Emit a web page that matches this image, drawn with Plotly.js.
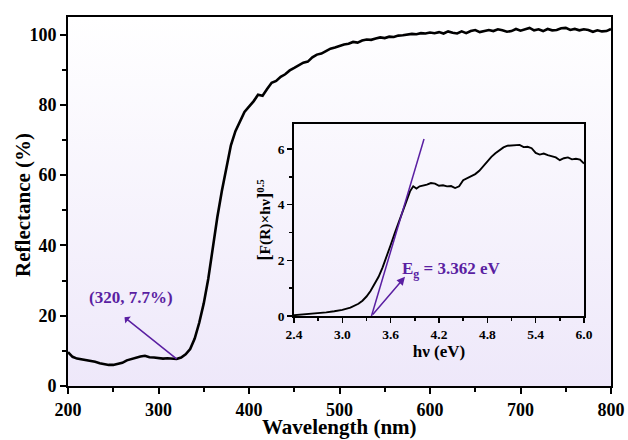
<!DOCTYPE html>
<html>
<head>
<meta charset="utf-8">
<script src="https://cdn.plot.ly/plotly-3.0.1.min.js"></script>
<style>html,body{margin:0;padding:0;background:#fff;}#chart{width:628px;height:440px;}</style>
</head>
<body>
<div id="chart"></div>
<script>
// Main spectrum: wavelength (nm) vs reflectance (%)
const wavelength = [];
for (let w = 200; w <= 800; w += 5) wavelength.push(w);
const reflectance = [
  9.6, 8.3, 7.8, 7.6, 7.5, 7.3, 6.9, 6.5, 6.2, 6.0,
  6.0, 6.2, 6.6, 7.3, 7.7, 8.0, 8.4, 8.6, 8.2, 8.1,
  7.9, 7.8, 7.9, 7.7, 7.7, 8.1, 9.0, 10.5, 13.5, 18.0,
  23.5, 30.5, 39.5, 48.0, 55.5, 62.5, 68.5, 72.5, 75.5, 78.0,
  79.5, 81.0, 82.9, 82.6, 84.5, 86.3, 86.8, 88.0, 88.7, 89.8,
  90.5, 91.2, 92.0, 92.3, 93.5, 94.3, 94.6, 95.3, 96.0, 96.3,
  96.8, 97.2, 97.4, 97.9, 97.7, 98.3, 98.6, 98.5, 98.9, 99.2,
  99.0, 99.4, 99.3, 99.7, 99.8, 100.0, 100.2, 100.1, 100.4, 100.3,
  100.6, 100.4, 100.7, 100.3, 100.9, 100.5, 100.3, 100.9, 100.4, 101.0,
  101.3, 100.7, 100.9, 101.3, 101.0, 101.5, 101.2, 100.8, 101.0, 101.6,
  101.1, 101.4, 101.9, 101.2, 101.5, 101.0, 101.6, 101.2, 101.3, 101.8,
  101.9, 101.3, 101.6, 101.2, 101.5, 101.3, 100.8, 101.2, 100.9, 101.0,
  101.6
];

// Inset: Tauc-type plot
const photonEnergy = [2.40,2.50,2.60,2.70,2.80,2.90,3.00,3.10,3.15,3.20,3.25,3.30,3.35,3.40,3.45,3.50,3.55,3.60,3.65,3.70,3.75,3.80,3.84,3.88,3.92,3.96,4.00,4.05,4.10,4.15,4.20,4.25,4.30,4.35,4.40,4.45,4.50,4.55,4.60,4.65,4.70,4.75,4.80,4.85,4.90,4.95,5.00,5.05,5.10,5.15,5.20,5.25,5.30,5.35,5.40,5.45,5.50,5.55,5.60,5.65,5.70,5.75,5.80,5.85,5.90,5.95,6.00];
const taucValue = [0.03,0.05,0.07,0.10,0.13,0.17,0.22,0.30,0.36,0.44,0.55,0.70,0.90,1.13,1.41,1.75,2.13,2.55,2.97,3.38,3.78,4.20,4.48,4.66,4.58,4.66,4.68,4.72,4.78,4.76,4.68,4.70,4.66,4.67,4.60,4.66,4.88,4.95,5.05,5.10,5.22,5.40,5.55,5.72,5.85,5.97,6.06,6.12,6.13,6.13,6.15,6.07,6.08,6.03,5.86,5.80,5.84,5.78,5.74,5.70,5.60,5.67,5.70,5.63,5.65,5.62,5.48];

// Tangent (band-gap extrapolation) line
const tangentX = [3.362, 4.014];
const tangentY = [0, 6.36];

// Annotation values and texts
const markWl = 320, markR = 7.7;
const markLabel = '(320, 7.7%)';
const gapValue = 3.362;
const gapLabel = 'E<sub>g</sub> = 3.362 eV';
const xTitle = 'Wavelength (nm)';
const yTitle = 'Reflectance (%)';
const x2Title = 'hν (eV)';
const y2Title = '<span style="font-size:19px">[</span>F(R)×hν<span style="font-size:19px">]</span><sup>0.5</sup>';

const purple = '#5a1fa2';
const serif = 'Liberation Serif, Times New Roman, serif';

const svg = "<svg xmlns='http://www.w3.org/2000/svg' width='100' height='100' preserveAspectRatio='none'><defs><linearGradient id='g' x1='0' y1='0' x2='0' y2='1'><stop offset='0' stop-color='#ffffff'/><stop offset='1' stop-color='#eee8fa'/></linearGradient></defs><rect width='100' height='100' fill='url(#g)'/></svg>";
const bgImg = 'data:image/svg+xml;utf8,' + encodeURIComponent(svg);

const traces = [
  {x: wavelength, y: reflectance, type: 'scatter', mode: 'lines',
   line: {color: '#000', width: 2.6}, xaxis: 'x', yaxis: 'y', hoverinfo: 'skip'},
  {x: photonEnergy, y: taucValue, type: 'scatter', mode: 'lines',
   line: {color: '#000', width: 1.9}, xaxis: 'x2', yaxis: 'y2', hoverinfo: 'skip'},
  {x: tangentX, y: tangentY, type: 'scatter', mode: 'lines',
   line: {color: purple, width: 1.5}, xaxis: 'x2', yaxis: 'y2', hoverinfo: 'skip'}
];

const axisCommon = {
  showgrid: false, zeroline: false, showline: true, mirror: true,
  linecolor: '#000', ticks: 'outside', tickcolor: '#000'
};

const layout = {
  width: 628, height: 440,
  margin: {l: 68, r: 17, t: 17, b: 54},
  paper_bgcolor: '#ffffff',
  plot_bgcolor: 'rgba(0,0,0,0)',
  showlegend: false,
  images: [{source: bgImg, xref: 'paper', yref: 'paper', x: 0, y: 1, sizex: 1, sizey: 1,
            sizing: 'stretch', xanchor: 'left', yanchor: 'top', layer: 'below'}],
  xaxis: Object.assign({}, axisCommon, {
    domain: [0, 1], range: [200, 800], dtick: 100, tick0: 200,
    linewidth: 2, ticklen: 6, tickwidth: 2,
    minor: {dtick: 50, ticklen: 4, tickwidth: 2, ticks: 'outside', tickcolor: '#000'},
    tickfont: {family: serif, size: 18, color: '#000', weight: 'bold'},
    anchor: 'y'
  }),
  yaxis: Object.assign({}, axisCommon, {
    domain: [0, 1], range: [0, 105], dtick: 20, tick0: 0,
    linewidth: 2, ticklen: 6, tickwidth: 2,
    minor: {dtick: 10, ticklen: 4, tickwidth: 2, ticks: 'outside', tickcolor: '#000'},
    tickfont: {family: serif, size: 18, color: '#000', weight: 'bold'},
    anchor: 'x'
  }),
  xaxis2: Object.assign({}, axisCommon, {
    domain: [0.4162, 0.9503], range: [2.4, 6.0], dtick: 0.6, tick0: 2.4,
    tickformat: '.1f',
    linewidth: 1.8, ticklen: 5, tickwidth: 1.5,
    minor: {dtick: 0.3, ticklen: 3, tickwidth: 1.5, ticks: 'outside', tickcolor: '#000'},
    tickfont: {family: serif, size: 13.5, color: '#000', weight: 'bold'},
    title: {text: x2Title, standoff: 4,
            font: {family: serif, size: 17, color: '#000', weight: 'bold'}},
    anchor: 'y2'
  }),
  yaxis2: Object.assign({}, axisCommon, {
    domain: [0.1897, 0.710], range: [0, 6.9], dtick: 2, tick0: 0,
    linewidth: 1.8, ticklen: 5, tickwidth: 1.5,
    minor: {dtick: 1, ticklen: 3, tickwidth: 1.5, ticks: 'outside', tickcolor: '#000'},
    tickfont: {family: serif, size: 13.5, color: '#000', weight: 'bold'},
    title: {text: y2Title, standoff: 3,
            font: {family: serif, size: 15.5, color: '#000', weight: 'bold'}},
    anchor: 'x2'
  }),
  annotations: [
    {xref: 'paper', yref: 'paper', x: 0.5, y: -0.1463, xanchor: 'center', yanchor: 'bottom',
     text: xTitle, showarrow: false, borderpad: 0,
     font: {family: serif, size: 21, color: '#000', weight: 'bold'}},
    {xref: 'paper', yref: 'paper', x: -0.083, y: 0.4905, xanchor: 'center', yanchor: 'middle',
     text: yTitle, textangle: -90, showarrow: false,
     font: {family: serif, size: 21, color: '#000', weight: 'bold'}},
    {xref: 'x', yref: 'y', x: markWl, y: markR, axref: 'x', ayref: 'y',
     ax: 260.8, ay: 19.9, text: '', showarrow: true, arrowside: 'start',
     arrowhead: 2, arrowsize: 1.1, arrowwidth: 1.5, arrowcolor: purple, standoff: 0, startstandoff: 0},
    {xref: 'x', yref: 'y', x: 269.6, y: 25.2, text: markLabel, showarrow: false,
     font: {family: serif, size: 17, color: purple, weight: 'bold'}},
    {xref: 'x2', yref: 'y2', x: 3.778, y: 1.41, axref: 'x2', ayref: 'y2',
     ax: gapValue, ay: 0, text: '', showarrow: true, arrowside: 'end',
     arrowhead: 2, arrowsize: 1.1, arrowwidth: 1.5, arrowcolor: purple, standoff: 0},
    {xref: 'x2', yref: 'y2', x: 3.72, y: 1.66, xanchor: 'left', yanchor: 'middle',
     text: gapLabel, showarrow: false,
     font: {family: serif, size: 17, color: purple, weight: 'bold'}}
  ]
};

Plotly.newPlot('chart', traces, layout, {displayModeBar: false, staticPlot: true});
</script>
</body>
</html>
